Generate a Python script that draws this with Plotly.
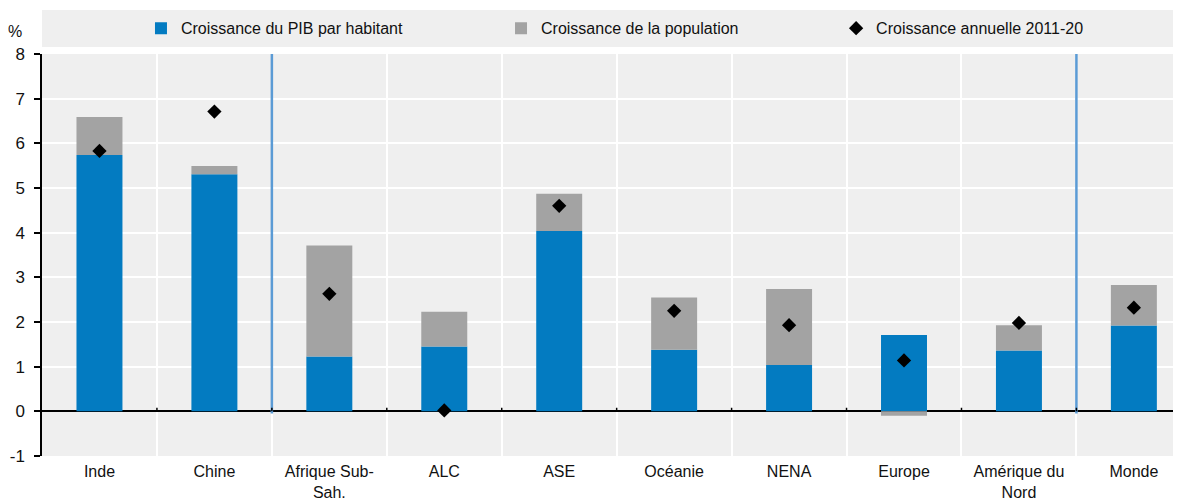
import plotly.graph_objects as go

categories = ["Inde", "Chine", "Afrique Sub-<br>Sah.", "ALC", "ASE", "Océanie", "NENA",
              "Europe", "Amérique du<br>Nord", "Monde"]
pib_hab = [5.74, 5.31, 1.23, 1.45, 4.04, 1.38, 1.04, 1.71, 1.36, 1.92]
population = [0.85, 0.18, 2.48, 0.78, 0.83, 1.17, 1.70, -0.10, 0.57, 0.91]
annuelle = [5.83, 6.71, 2.63, 0.02, 4.60, 2.25, 1.93, 1.14, 1.98, 2.32]
y_ticks = [-1, 0, 1, 2, 3, 4, 5, 6, 7, 8]
y_tick_labels = ["-1", "0", "1", "2", "3", "4", "5", "6", "7", "8"]

FONT = "Liberation Sans, Arial, sans-serif"
BLUE = "#037BC1"
GREY = "#A3A3A3"
BG = "#EFEFEF"

fig = go.Figure()
fig.add_bar(x=categories, y=pib_hab, name="Croissance du PIB par habitant",
            marker=dict(color=BLUE, line=dict(width=0)), width=0.4, legend="legend")
fig.add_bar(x=categories, y=population, name="Croissance de la population",
            marker=dict(color=GREY, line=dict(width=0)), width=0.4, legend="legend2")
fig.add_scatter(x=categories, y=annuelle, name="Croissance annuelle 2011-20", mode="markers",
                marker=dict(symbol="diamond", color="black", size=11), legend="legend3")

shapes = [
    # legend band
    dict(type="rect", xref="paper", yref="paper", x0=0, x1=1.01, y0=1.0174, y1=1.1095,
         fillcolor=BG, line=dict(width=0), layer="below"),
]
# separators between groups
for xb in [1.5, 8.5]:
    shapes.append(dict(type="line", xref="x", yref="y", x0=xb, x1=xb, y0=-0.05, y1=8,
                       line=dict(color="#5B9BD5", width=2.5), layer="above"))
# small ticks on zero line at category boundaries
for i in range(len(categories) - 1):
    shapes.append(dict(type="line", xref="x", yref="y", x0=i + 0.5, x1=i + 0.5, y0=0, y1=0.08,
                       line=dict(color="black", width=1.5), layer="above"))


def leg(x):
    return dict(orientation="h", x=x, xanchor="left", y=1.064, yanchor="middle",
                bgcolor="rgba(0,0,0,0)", font=dict(size=16, family=FONT), itemwidth=30)


fig.update_layout(
    barmode="relative",
    width=1173, height=493,
    margin=dict(l=34, r=0, t=46, b=45),
    paper_bgcolor="white",
    plot_bgcolor=BG,
    font=dict(family=FONT, size=16, color="#111111"),
    showlegend=True,
    legend=leg(0.0869),
    legend2=leg(0.4030),
    legend3=leg(0.6972),
    shapes=shapes,
    annotations=[dict(text="%", xref="paper", yref="paper", x=-0.016, y=1.057,
                      xanchor="right", yanchor="middle", showarrow=False,
                      font=dict(size=16, family=FONT))],
)
fig.update_xaxes(type="category", range=[-0.5, 9.41], tickson="boundaries",
                 showgrid=True, gridcolor="white", gridwidth=2, ticks="",
                 ticklabelstandoff=4,
                 showline=False, zeroline=False, tickfont=dict(size=16, family=FONT))
fig.update_yaxes(range=[-1, 8], tickvals=y_ticks, ticktext=y_tick_labels,
                 showgrid=True, gridcolor="white", gridwidth=2,
                 zeroline=True, zerolinecolor="black", zerolinewidth=1.5,
                 showline=True, linecolor="black", linewidth=1.5,
                 ticks="outside", ticklen=6, tickcolor="black", tickwidth=1.5,
                 ticklabelstandoff=6,
                 tickfont=dict(size=17, family=FONT))

fig.write_html("out.html")
